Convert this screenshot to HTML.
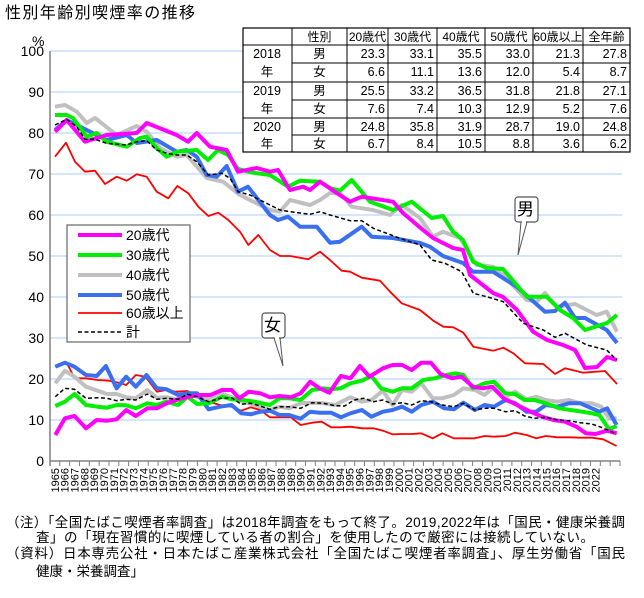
<!DOCTYPE html>
<html><head><meta charset="utf-8">
<style>
html,body{margin:0;padding:0;background:#fff;}
svg{display:block;}
text{font-family:"Liberation Sans","Noto Sans CJK JP",sans-serif;fill:#000;}
</style></head>
<body>
<svg id="s" width="644" height="598" viewBox="0 0 644 598" xmlns="http://www.w3.org/2000/svg">
<rect width="644" height="598" fill="#fff"/>
<text x="5" y="18" font-size="16" textLength="190">性別年齢別喫煙率の推移</text>
<text x="32" y="46" font-size="14">%</text>
<g id="grid"></g>
<g id="ylab" font-size="14" text-anchor="end"></g>
<line x1="50" y1="51" x2="50" y2="466" stroke="#808080" stroke-width="1.5"/>
<line x1="50" y1="461" x2="620" y2="461" stroke="#808080" stroke-width="1.5"/>
<g id="ticks"></g>
<g id="xlab" font-size="11"></g>
<g id="lines" fill="none" stroke-linejoin="round"></g>

<rect x="67" y="225" width="123" height="117" fill="#fff" stroke="#666" stroke-width="1.2"/>
<g font-size="14">
<line x1="78" y1="235" x2="122" y2="235" stroke="#ff00ff" stroke-width="4"/><text x="126" y="240">20歳代</text>
<line x1="78" y1="255" x2="122" y2="255" stroke="#00ee00" stroke-width="4"/><text x="126" y="260">30歳代</text>
<line x1="78" y1="275" x2="122" y2="275" stroke="#c0c0c0" stroke-width="4"/><text x="126" y="280">40歳代</text>
<line x1="78" y1="295" x2="122" y2="295" stroke="#3a6ff0" stroke-width="4"/><text x="126" y="300">50歳代</text>
<line x1="78" y1="313" x2="122" y2="313" stroke="#ff0000" stroke-width="1.8"/><text x="126" y="318">60歳以上</text>
<line x1="78" y1="332" x2="122" y2="332" stroke="#000" stroke-width="1.5" stroke-dasharray="4,2.5"/><text x="126" y="337">計</text>
</g>

<path d="M521,222 L518,255 L527,222 Z" fill="#fff" stroke="#555" stroke-width="1"/>
<rect x="515" y="197" width="23" height="25" rx="3" fill="#fff" stroke="#555" stroke-width="1.2"/>
<line x1="522" y1="222" x2="526" y2="222" stroke="#fff" stroke-width="2"/>
<text x="517" y="215" font-size="17">男</text>
<path d="M274,338 L283,366 L280,338 Z" fill="#fff" stroke="#555" stroke-width="1"/>
<rect x="262" y="313" width="23" height="25" rx="3" fill="#fff" stroke="#555" stroke-width="1.2"/>
<line x1="275" y1="338" x2="279" y2="338" stroke="#fff" stroke-width="2"/>
<text x="264" y="331" font-size="17">女</text>

<g id="tbl"></g>

<g font-size="13.5">
<text x="6" y="527" textLength="619">（注）「全国たばこ喫煙者率調査」は2018年調査をもって終了。2019,2022年は「国民・健康栄養調</text>
<text x="36" y="542" textLength="558">査」の「現在習慣的に喫煙している者の割合」を使用したので厳密には接続していない。</text>
<text x="6" y="558" textLength="619">（資料）日本専売公社・日本たばこ産業株式会社「全国たばこ喫煙者率調査」、厚生労働省「国民</text>
<text x="36" y="576" textLength="108">健康・栄養調査」</text>
</g>
</svg>
<script>
var NS="http://www.w3.org/2000/svg";
function el(p,t,a,txt){var e=document.createElementNS(NS,t);for(var k in a)e.setAttribute(k,a[k]);if(txt!==undefined)e.textContent=txt;p.appendChild(e);return e;}
var g=document.getElementById('grid'),yl=document.getElementById('ylab');
for(var v=0;v<=100;v+=10){var y=461-4.1*v;if(v>0)el(g,'line',{x1:50,y1:y,x2:622,y2:y,stroke:'#c6defa','stroke-width':1.5});el(yl,'text',{x:44,y:y+5},String(v));}
var tk=document.getElementById('ticks'),xl=document.getElementById('xlab');
var w=570/58;
for(var i=0;i<=58;i++){var x=50+i*w;el(tk,'line',{x1:x,y1:461,x2:x,y2:466,stroke:'#808080','stroke-width':1});}
var years=[];for(var yv=1965;yv<=2019;yv++)years.push(yv);years.push(2022);
for(var i=0;i<years.length;i++){var cx=50+w*(i+0.5)+4;el(xl,'text',{x:0,y:0,transform:'translate('+cx+',468) rotate(-90)','text-anchor':'end'},String(years[i]));}
var L=document.getElementById('lines');
function pl(pts,col,sw,dash){var a={points:pts.map(function(p){return p[0].toFixed(1)+','+p[1].toFixed(1)}).join(' '),stroke:col,'stroke-width':sw};if(dash)a['stroke-dasharray']=dash;el(L,'polyline',a);}
function z5(arr){return arr.map(function(p){return [49.6+(p[0]-25)/2.61,340+p[1]/3];});}
var fR=[[40,80],[70,68],[90,115],[120,115],[150,120],[180,122],[205,128],[225,135],[250,105],[275,110],[305,155],[330,150],[355,155],[385,153],[410,172],[440,185],[470,195],[500,200],[525,212],[550,202],[575,210],[600,232],[625,232],[655,232],[680,255],[710,248],[735,245],[760,262],[785,262],[810,260],[840,265],[870,265],[895,272],[920,283],[945,282],[970,282],[995,280],[1025,295],[1050,280],[1080,295],[1105,295],[1135,295],[1160,288],[1185,290],[1215,288],[1240,278],[1270,285],[1295,295],[1320,288],[1350,292],[1380,292],[1410,293],[1440,293],[1470,298],[1505,318]];
var fG=[[40,130],[65,92],[90,110],[120,140],[150,152],[175,162],[200,162],[225,172],[250,175],[280,150],[305,173],[330,172],[360,180],[385,160],[410,170],[440,175],[470,158],[500,172],[530,185],[560,195],[600,210],[625,200],[650,205],[680,190],[710,188],[740,190],[770,195],[810,172],[840,185],[865,180],[895,152],[920,195],[945,150],[970,155],[995,130],[1025,175],[1050,175],[1080,165],[1105,145],[1135,150],[1160,165],[1185,140],[1215,170],[1240,155],[1270,178],[1295,170],[1320,180],[1350,185],[1380,180],[1410,190],[1440,190],[1465,200],[1485,235],[1505,235]];
var fB=[[40,80],[65,68],[90,80],[120,105],[148,108],[172,78],[200,145],[225,110],[250,140],[278,105],[305,145],[330,148],[360,165],[385,160],[410,160],[440,208],[470,200],[500,195],[525,220],[550,223],[575,215],[600,212],[625,225],[650,225],[680,236],[705,215],[730,218],[760,218],[785,232],[810,220],[840,210],[865,230],[895,215],[920,210],[945,200],[970,215],[995,195],[1025,185],[1055,205],[1080,208],[1105,188],[1135,210],[1160,195],[1185,200],[1215,180],[1240,190],[1270,215],[1295,215],[1320,195],[1350,200],[1380,190],[1410,190],[1440,205],[1460,215],[1480,205],[1505,255]];
var fLG=[[40,198],[65,185],[90,162],[120,195],[150,200],[175,203],[200,195],[225,196],[250,205],[280,190],[305,195],[330,185],[360,195],[385,170],[410,192],[440,190],[475,170],[500,178],[530,180],[560,185],[600,195],[625,175],[650,175],[680,180],[710,150],[740,145],[760,148],[785,145],[810,130],[840,122],[865,108],[890,145],[920,155],[945,145],[970,145],[1000,120],[1030,115],[1060,105],[1085,100],[1105,105],[1130,145],[1160,130],[1185,125],[1215,160],[1240,162],[1265,180],[1290,180],[1320,190],[1355,205],[1385,210],[1415,215],[1440,220],[1460,225],[1485,268],[1505,258]];
var fM=[[40,285],[65,235],[90,228],[120,265],[148,240],[175,242],[200,238],[225,210],[250,228],[280,205],[305,205],[330,190],[360,178],[390,170],[420,165],[445,165],[475,150],[500,150],[520,175],[545,155],[575,160],[600,172],[625,168],[655,172],[680,160],[705,125],[730,145],[755,158],[785,108],[810,115],[835,78],[860,110],[895,85],[920,75],[945,75],[970,90],[995,68],[1020,68],[1045,102],[1075,115],[1100,110],[1130,140],[1155,145],[1180,140],[1210,175],[1245,195],[1280,215],[1310,230],[1340,240],[1370,245],[1400,260],[1425,280],[1450,282],[1480,272],[1505,280]];
var fK=[[40,170],[65,145],[90,148],[120,175],[150,173],[175,175],[200,182],[225,178],[250,180],[280,162],[305,178],[330,175],[360,178],[385,163],[410,170],[440,185],[470,175],[500,173],[525,193],[550,190],[575,198],[600,208],[625,200],[650,200],[680,205],[710,188],[740,190],[770,197],[795,198],[820,180],[845,175],[870,185],[895,180],[920,192],[945,188],[970,195],[995,182],[1020,185],[1050,195],[1080,200],[1105,190],[1135,210],[1160,205],[1185,205],[1215,215],[1240,212],[1265,228],[1290,235],[1320,232],[1350,240],[1380,242],[1410,248],[1440,252],[1465,262],[1505,282]];
var mR=[[55,156.7],[66,142.7],[75,161.7],[85,171.7],[95,170.7],[105,184],[116.7,176.7],[126.7,180.7],[136.7,174.3],[146.7,176.7],[156.7,191.7],[168.3,198.3],[177.3,186],[188.3,193.3],[198.3,206.7],[208.3,216],[218.3,212.7],[228.3,220],[240,231.7],[248.3,245],[258.3,235],[270,250],[280,256],[290,256],[308.3,259.3],[320,251.7],[330,260],[341.7,270.7],[350,271.7],[361.7,277.7],[380,280.7],[390,291.7],[401.7,303.3],[420,310],[433.3,320.7],[443.3,326.7],[453.3,327.3],[463.3,332.7],[473.3,346.7],[493.3,350.7],[503.3,347.7],[513.3,353.3],[525,363.3],[543.3,364],[555,374],[565,368.3],[583.3,372.7],[605,371],[617,384]];
var mGy=[[55,106.7],[65,105],[76.7,111.7],[86.7,123],[95,118],[116.7,135],[136.7,126],[146.7,131.7],[160,148],[176.7,156.7],[186.7,155],[206.7,178],[223,181.7],[240,195],[270,210],[280,211.7],[290,200],[310,205],[320,200],[330,193],[340,193],[351.7,206.7],[373,210],[390,215],[401.7,205],[420,218],[433,236.7],[443,231.7],[460,238],[476.7,265],[493,266.7],[503,275],[526.7,300],[536.7,301.7],[545,293],[556.7,306.7],[575,304],[596.7,315],[606.7,311.7],[617,331.7]];
var mB=[[55,130],[66.7,120],[106.7,140],[126.7,135],[136.7,143],[156.7,140],[176.7,151.7],[186.7,150],[196.7,156.7],[206.7,175],[216.7,176.7],[226.7,166],[238,191.7],[248,186.7],[270,215],[278,220],[288,216.7],[300,226.7],[316.7,226.7],[330,242.7],[340,241.7],[361.7,226.7],[371.7,236.7],[393,238],[420,243],[430,246.7],[443,256],[463,263],[473,271.7],[493,271.7],[516.7,286.7],[545,311.7],[555,311],[565,302.7],[575,318],[585,318],[606.7,330],[617,343]];
var mG=[[55,115],[66.7,115],[73,118],[86.7,136.7],[96.7,133],[106.7,141.7],[126.7,146.7],[140,138],[146.7,136.7],[156.7,148],[166.7,156.7],[176.7,151.7],[196.7,150],[208,160],[218,150],[228,155],[238,169],[253,172.7],[270,175],[288,186.7],[300,180.7],[320,181.7],[330,188],[340,190.7],[351.7,180],[370,201.7],[393,210],[411.7,201.7],[431.7,218],[443,216],[453,231.7],[463,240],[473,261.7],[486.7,268],[503,269],[526.7,296.7],[546.7,296.7],[560,310],[573,318],[585,330],[607,323],[617,315]];
var mM=[[55,131.7],[66.7,120],[85,141.7],[106.7,135],[136.7,133],[146.7,123],[176.7,135],[188,141.7],[196.7,133],[210,146.7],[226.7,150],[238,171.7],[256.7,168],[270,171.7],[278,170],[290,190],[303,186.7],[310,190],[320,181.7],[336.7,193],[350,201.7],[361.7,196.7],[393,201.7],[403,213],[423,230],[433,238],[453,248],[463,250],[470,275],[493,293],[503,297],[517,310],[533,331.7],[547,340],[563,345],[575,350],[585,368],[597,367],[607,357],[617,360]];
var mK=[[55,125],[66.7,119.3],[76.7,126.7],[85,139.3],[95,139.3],[106.7,143.3],[126.7,145],[136.7,141.7],[146.7,140.7],[156.7,150],[166.7,153.3],[176.7,155],[186.7,155],[196.7,161.7],[208.3,175],[221.7,173.3],[230,178.3],[238.3,191.7],[250,195],[270,205],[280,210],[290,211.7],[310,214.3],[320,211.7],[330,215],[350,220.7],[361.7,220.7],[373.3,228.3],[400,238.3],[420,245],[431.7,260],[445,263.3],[461.7,271.7],[473.3,293.3],[486.7,296.7],[503.3,301.7],[523.3,323.3],[543.3,330],[555,337.3],[565,333.3],[586.7,345],[606.7,350],[616.7,360]];
pl(z5(fR),'#ff0000',1.8);
pl(z5(fG),'#c0c0c0',4);
pl(z5(fB),'#3a6ff0',4);
pl(z5(fLG),'#00ee00',4);
pl(z5(fM),'#ff00ff',4);
pl(z5(fK),'#000',1.5,'4,2.5');
pl(mR,'#ff0000',1.8);
pl(mGy,'#c0c0c0',4);
pl(mB,'#3a6ff0',4);
pl(mG,'#00ee00',4);
pl(mM,'#ff00ff',4);
pl(mK,'#000',1.5,'4,2.5');
var T=document.getElementById('tbl');
var cols=[243,292,347,388,437,485,533,583,630];
var rows=[28,45,63,82,100,118,135,152];
el(T,'rect',{x:243,y:28,width:387,height:124,fill:'#fff',stroke:'#000','stroke-width':1.2});
for(var c=1;c<cols.length-1;c++)el(T,'line',{x1:cols[c],y1:28,x2:cols[c],y2:152,stroke:'#000','stroke-width':1});
for(var r=1;r<rows.length-1;r++){var x1=(r%2==0)?292:243;el(T,'line',{x1:x1,y1:rows[r],x2:630,y2:rows[r],stroke:'#000','stroke-width':1});}
var hdr=['性別','20歳代','30歳代','40歳代','50歳代','60歳以上','全年齢'];
for(var c=0;c<hdr.length;c++){el(T,'text',{x:(cols[c+1]+cols[c+2])/2,y:41,'font-size':12,'text-anchor':'middle'},hdr[c]);}
var data=[['男','23.3','33.1','35.5','33.0','21.3','27.8'],['女','6.6','11.1','13.6','12.0','5.4','8.7'],['男','25.5','33.2','36.5','31.8','21.8','27.1'],['女','7.6','7.4','10.3','12.9','5.2','7.6'],['男','24.8','35.8','31.9','28.7','19.0','24.8'],['女','6.7','8.4','10.5','8.8','3.6','6.2']];
for(var r=0;r<6;r++){var yy=rows[r+1]+13;
 el(T,'text',{x:(292+347)/2,y:yy,'font-size':12.5,'text-anchor':'middle'},data[r][0]);
 for(var c=1;c<7;c++)el(T,'text',{x:cols[c+2]-3,y:yy,'font-size':12.5,'text-anchor':'end'},data[r][c]);}
var yrs=['2018','2019','2020'];
for(var k=0;k<3;k++){el(T,'text',{x:267,y:rows[1+2*k]+13,'font-size':12.5,'text-anchor':'middle'},yrs[k]);el(T,'text',{x:267,y:rows[2+2*k]+13,'font-size':12.5,'text-anchor':'middle'},'年');}
</script>
</body></html>
